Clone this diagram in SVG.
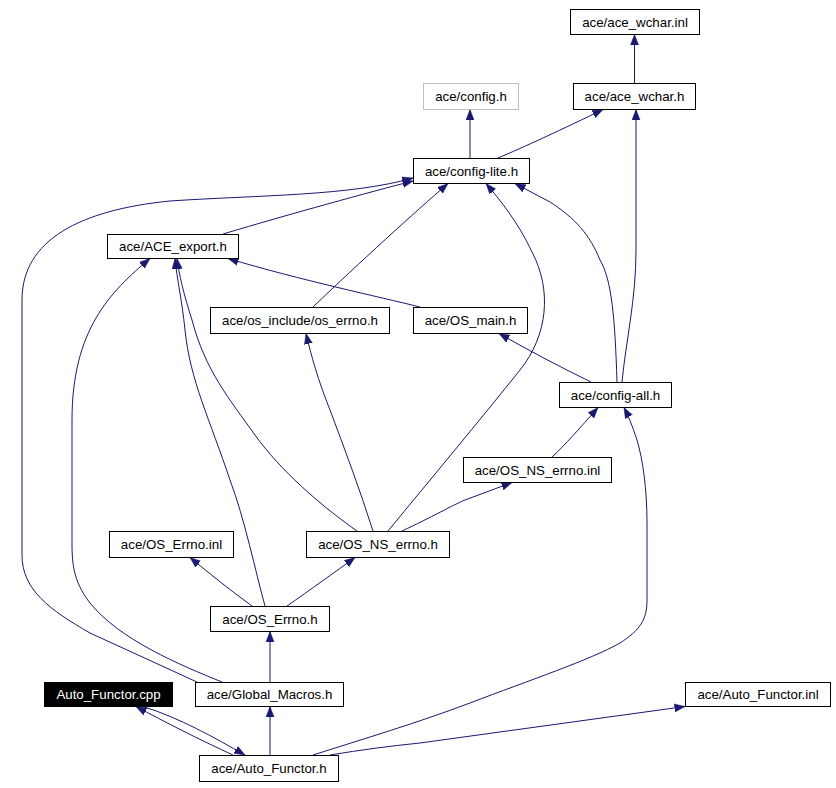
<svg xmlns="http://www.w3.org/2000/svg" width="836" height="788" viewBox="0 0 836 788">
<style>
.n rect{fill:#fff;stroke:#000;stroke-width:1}
.n text{font-family:"Liberation Sans",Arial,Helvetica,sans-serif;font-size:13.3px;fill:#000;text-anchor:middle}
#config rect{stroke:#bfbfbf}
#cpp rect{fill:#000}
#cpp text{fill:#fff}
.e path{fill:none;stroke:#191970;stroke-width:1;marker-end:url(#ah)}
</style>
<defs>
<marker id="ah" markerUnits="userSpaceOnUse" markerWidth="11" markerHeight="9" refX="10.5" refY="4.5" orient="auto" viewBox="0 0 11 9">
<path d="M0,0.5 L10.5,4.5 L0,8.5 z" fill="#191970" stroke="#191970" stroke-width="0.5"/>
</marker>
</defs>
<rect width="836" height="788" fill="#fff"/>
<g class="e" id="edges">
<path d="M634.5,83 L634.5,34.5"/>
<path d="M470,158 L470,109.5"/>
<path d="M498,158 C522,148 565,128 603,109.5"/>
<path d="M622,382 C626,340 636,300 636,250 L636,109.5"/>
<path d="M617,382 C615,320 612,280 600,260 C590,235 575,218 550,202 L515,183.5"/>
<path d="M388,531 C430,480 480,420 520,370 C548,335 552,290 532,252 C518,222 500,200 486,183.5"/>
<path d="M313,307 C360,262 415,212 448,183.5"/>
<path d="M223,234 C290,214 370,192 413,181"/>
<path d="M197,682 L90,633 C50,610 22,590 22,555 L22,300 C22,240 80,210 170,201 C260,195 350,196 413,178"/>
<path d="M420,307 C380,297 300,280 228,258.5"/>
<path d="M591,382 C560,367 530,351 499,333.5"/>
<path d="M222,682 C180,665 120,640 90,603 C72,580 72,560 72,540 L72,420 C72,330 110,292 150,258.5"/>
<path d="M265,606 C255,570 245,520 230,480 C210,420 190,380 185,330 C182,300 177,280 175,258.5"/>
<path d="M357,531 C320,505 280,470 255,435 C230,400 205,370 192,320 C184,295 179,275 177,258.5"/>
<path d="M373,531 C360,490 345,450 330,410 C318,380 311,355 306,333.5"/>
<path d="M402,531 C430,518 455,504 465,500 L512,482.5"/>
<path d="M552,457 C565,445 580,428 598,407.5"/>
<path d="M252,606 C230,590 210,574 190,557.5"/>
<path d="M287,606 C310,590 335,572 355,557.5"/>
<path d="M270,682 L270,631.5"/>
<path d="M270,755 L270,706.5"/>
<path d="M143,706.5 C180,718 215,738 245,755"/>
<path d="M233,755 C200,740 165,722 136,706.5"/>
<path d="M330,755 C360,750 390,746 420,743 L685,706.5"/>
<path d="M313,755 C360,740 420,722 470,703 C530,680 590,660 620,643 C640,630 647,620 647,600 L647,523 C647,490 643,460 637,440 C632,425 628,415 624,407.5"/>
</g>
<g class="n" id="wchar_inl"><rect x="570.5" y="9.5" width="129" height="25"/><text x="635" y="26.5">ace/ace_wchar.inl</text></g>
<g class="n" id="config"><rect x="423.5" y="83.5" width="95" height="26"/><text x="471" y="101">ace/config.h</text></g>
<g class="n" id="wchar_h"><rect x="573.5" y="83.5" width="122" height="26"/><text x="634.5" y="101">ace/ace_wchar.h</text></g>
<g class="n" id="lite"><rect x="413.5" y="158.5" width="116" height="25"/><text x="471.5" y="175.5">ace/config-lite.h</text></g>
<g class="n" id="export"><rect x="107.5" y="234.5" width="131" height="24"/><text x="173" y="251">ace/ACE_export.h</text></g>
<g class="n" id="oserrno"><rect x="210.5" y="307.5" width="179" height="26"/><text x="300" y="325">ace/os_include/os_errno.h</text></g>
<g class="n" id="osmain"><rect x="413.5" y="307.5" width="114" height="26"/><text x="470.5" y="325">ace/OS_main.h</text></g>
<g class="n" id="all"><rect x="559.5" y="382.5" width="112" height="25"/><text x="615.5" y="399.5">ace/config-all.h</text></g>
<g class="n" id="nsinl"><rect x="463.5" y="457.5" width="148" height="25"/><text x="537.5" y="474.5">ace/OS_NS_errno.inl</text></g>
<g class="n" id="errinl"><rect x="109.5" y="531.5" width="124" height="26"/><text x="171.5" y="549">ace/OS_Errno.inl</text></g>
<g class="n" id="nserrno"><rect x="306.5" y="531.5" width="143" height="26"/><text x="378" y="549">ace/OS_NS_errno.h</text></g>
<g class="n" id="errno"><rect x="210.5" y="606.5" width="119" height="25"/><text x="270" y="623.5">ace/OS_Errno.h</text></g>
<g class="n" id="cpp"><rect x="44.5" y="682.5" width="128" height="24"/><text x="108.5" y="699">Auto_Functor.cpp</text></g>
<g class="n" id="global"><rect x="195.5" y="682.5" width="148" height="24"/><text x="269.5" y="699">ace/Global_Macros.h</text></g>
<g class="n" id="afinl"><rect x="685.5" y="682.5" width="145" height="24"/><text x="758" y="699">ace/Auto_Functor.inl</text></g>
<g class="n" id="afh"><rect x="199.5" y="755.5" width="139" height="26"/><text x="269" y="773">ace/Auto_Functor.h</text></g>
</svg>
